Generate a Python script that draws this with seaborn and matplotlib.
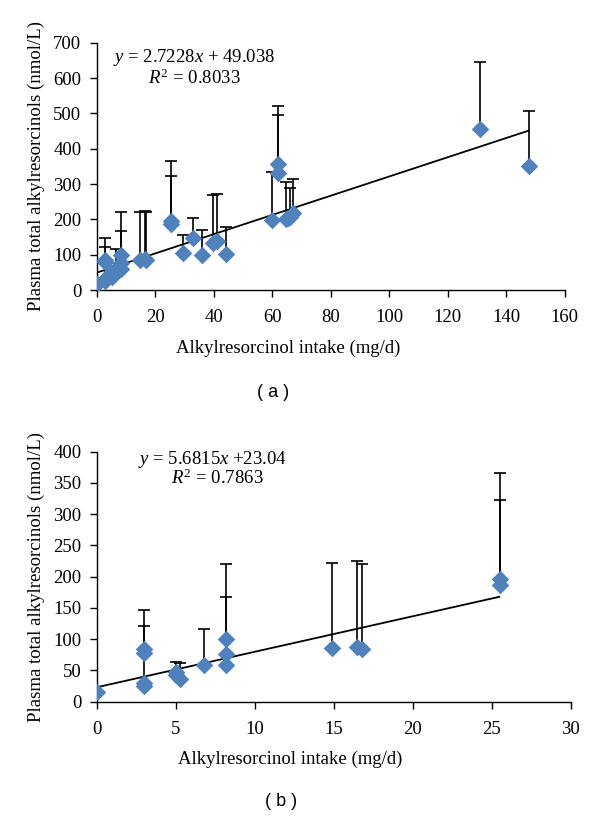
import numpy as np
import pandas as pd
import matplotlib
matplotlib.use("Agg")
import matplotlib.pyplot as plt
import seaborn as sns

# intake (mg/d), plasma alkylresorcinols (nmol/L), top of error bar (nan = none)
intake = [0.0, 3.0, 3.0, 3.0, 3.0, 5.0, 5.0, 5.3, 6.8, 8.2, 8.2, 8.2,
          14.9, 16.5, 16.8, 25.5, 25.5,
          29.5, 33.0, 36.2, 39.9, 41.0, 44.1, 59.8, 62.1, 62.1,
          64.6, 65.5, 66.0, 67.1, 131.0, 147.8]
plasma = [16, 84, 78, 30, 25, 48, 42, 37, 59, 100, 76, 59,
          86, 88, 85, 196, 187,
          104, 146, 99, 132, 138, 101, 198, 356, 332,
          200, 204, 208, 217, 455, 351]
upper = [np.nan, 146, 121, 74, np.nan, 63, np.nan, 62, 117, 220, 168, np.nan,
         222, 225, 221, 366, 323,
         156, 205, 170, 268, 273, 178, 335, 521, 495,
         306, np.nan, 288, 313, 645, 507]

# fitted trend lines as printed on the chart
fit_slope = {"a": 2.7228, "b": 5.6815}
fit_icpt = {"a": 49.038, "b": 23.04}
fit_r2 = {"a": 0.8033, "b": 0.7863}
subset_max = {"a": 200, "b": 26}   # panel (b) shows only low intakes
x_max = {"a": 160, "b": 30}
y_max = {"a": 700, "b": 400}
x_step = {"a": 20, "b": 5}
y_step = {"a": 100, "b": 50}

df = pd.DataFrame({"intake": intake, "plasma": plasma, "upper": upper})

sns.set_style("ticks")
plt.rcParams["font.family"] = ["Liberation Serif", "DejaVu Serif"]
plt.rcParams["mathtext.fontset"] = "custom"
plt.rcParams["mathtext.rm"] = "Liberation Serif"
plt.rcParams["mathtext.it"] = "Liberation Serif:italic"
plt.rcParams["font.size"] = 13.5
plt.rcParams["text.color"] = "black"
plt.rcParams["axes.labelcolor"] = "black"
plt.rcParams["xtick.color"] = "black"
plt.rcParams["ytick.color"] = "black"

blue = "#4F81BD"
fig = plt.figure(figsize=(6, 8.17), dpi=100)

panels = {
    "a": dict(rect=[0.161, 0.645, 0.78, 0.3027], xlab=(0.409, -0.2),
              eq=(0.208, 0.941), r2=(0.208, 0.856), tag=(0.455, 0.52),
              eqtxt="$y$ = 2.7228$x$ + 49.038"),
    "b": dict(rect=[0.161, 0.1411, 0.79, 0.306], xlab=(0.408, -0.195),
              eq=(0.245, 0.970), r2=(0.255, 0.894), tag=(0.469, 0.019),
              eqtxt="$y$ = 5.6815$x$ +23.04"),
}

for key, p in panels.items():
    ax = fig.add_axes(p["rect"])
    d = df[df["intake"] <= subset_max[key]]
    e = d.dropna(subset=["upper"])
    ax.errorbar(e["intake"], e["plasma"],
                yerr=[np.zeros(len(e)), e["upper"] - e["plasma"]],
                fmt="none", ecolor="black", elinewidth=1.2, capsize=4,
                capthick=1.2, zorder=2)
    xs = np.array([d["intake"].min(), d["intake"].max()])
    ax.plot(xs, fit_slope[key] * xs + fit_icpt[key], color="black", lw=1.3,
            zorder=3)
    sns.scatterplot(data=d, x="intake", y="plasma", marker="D", s=80,
                    color=blue, edgecolor=blue, linewidth=0, ax=ax, zorder=4)
    ax.set_xlim(0, x_max[key])
    ax.set_ylim(0, y_max[key])
    ax.set_xticks(np.arange(0, x_max[key] + 1, x_step[key]))
    ax.set_yticks(np.arange(0, y_max[key] + 1, y_step[key]))
    ax.tick_params(direction="out", length=5, width=1, color="black",
                   labelsize=13.5)
    ax.tick_params(axis="x", pad=9)
    ax.tick_params(axis="y", pad=6)
    for s in ["left", "bottom"]:
        ax.spines[s].set_color("black")
        ax.spines[s].set_linewidth(1)
    sns.despine(ax=ax)
    ax.set_xlabel("Alkylresorcinol intake (mg/d)", fontsize=13.5)
    ax.xaxis.set_label_coords(*p["xlab"])
    ax.set_ylabel("Plasma total alkylresorcinols (nmol/L)", fontsize=13.5,
                  labelpad=6)
    ax.text(p["eq"][0], p["eq"][1], p["eqtxt"], transform=ax.transAxes,
            ha="center", va="center", fontsize=13.5)
    ax.text(p["r2"][0], p["r2"][1], "$R^{\\mathrm{2}}$ = %.4f" % fit_r2[key],
            transform=ax.transAxes, ha="center", va="center", fontsize=13.5)
    fig.text(p["tag"][0], p["tag"][1], "( %s )" % key, ha="center",
             va="center", fontsize=13, family=["Liberation Sans", "DejaVu Sans"])

fig.savefig("out.png", dpi=100)
